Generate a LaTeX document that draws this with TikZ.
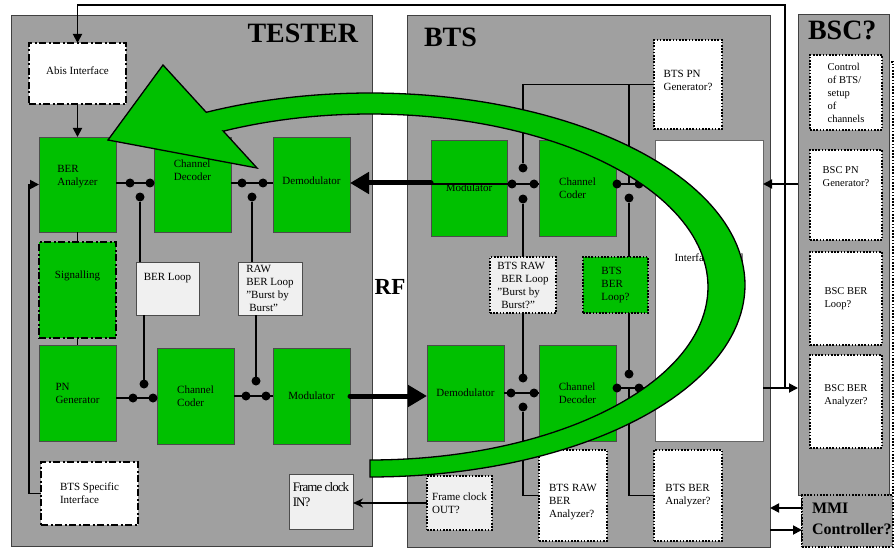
\documentclass[tikz,border=0pt]{standalone}
\usepackage{fontspec}
\setmainfont{Liberation Serif}
\usetikzlibrary{arrows.meta}
\definecolor{panelgray}{HTML}{A0A0A0}
\definecolor{boxgreen}{HTML}{00C000}
\definecolor{lightbox}{HTML}{F0F0F0}
\newcommand\drawbox[8]{\node[#1, minimum width={#5-#3}, minimum height={#6-#4}, label={[name=#2-t, align=left, #8]center:{#7}}] (#2) at ({(#3+#5)/2},{(#4+#6)/2}) {};}
\begin{document}
\begin{tikzpicture}[x=1pt,y=-1pt,
  every node/.style={inner sep=0pt, outer sep=0pt, font=\fontsize{11}{13}\selectfont},
  panel/.style={draw=black!75, line width=0.8pt, fill=panelgray},
  gbox/.style={draw=black!70, line width=0.8pt, fill=boxgreen},
  lbox/.style={draw=black!70, line width=0.8pt, fill=lightbox},
  wbox/.style={draw=black!60, line width=0.8pt, fill=white},
  dotb/.style={draw=black, line width=1.6pt, dash pattern=on 1.6pt off 1.6pt},
  dashdotb/.style={draw=black, line width=2.2pt, dash pattern=on 7pt off 2.5pt on 2pt off 2.5pt},
  wire/.style={draw=black, line width=1.8pt},
  arr/.style={wire, -{Triangle[length=9pt,width=9pt]}},
  rfarr/.style={draw=black, line width=5pt, line cap=round, -{Triangle[length=19pt,width=21pt]}},
  sw/.style={circle, fill=black, minimum size=9pt},
  title/.style={font=\fontsize{28}{30}\selectfont\bfseries}]
\useasboundingbox (0,0) rectangle (896,548);

% panels
\drawbox{panel}{tester}{11}{15}{372}{546}{}{}
\drawbox{panel}{bts}{407}{15}{770}{547}{}{}
\drawbox{dotb, fill=white}{mmiback}{802}{62}{893}{547}{}{}
\drawbox{panel}{bsc}{798}{14}{889}{495}{}{}
\drawbox{dotb, fill=panelgray}{mmi}{802}{495}{893}{547}{}{}
\node[title, anchor=base east] (testerT) at (358,43) {TESTER};
\node[title, anchor=base west] (btsT) at (424,47) {BTS};
\node[title, anchor=base west] (bscT) at (808,40) {BSC?};
\node[font=\fontsize{23}{25}\selectfont\bfseries] (rfT) at (390,287) {RF};
\node[font=\fontsize{16}{21}\selectfont\bfseries, align=left, anchor=north west] (mmiT) at (812,503) {MMI\\Controller?};

% tester boxes
\drawbox{dashdotb, fill=white}{abis}{29}{43}{126}{104}{Abis Interface}{yshift=3}
\drawbox{gbox}{berA}{39}{137}{116}{232}{BER\\Analyzer}{yshift=8}
\drawbox{gbox}{chdecT}{154}{137}{231}{232}{Channel\\Decoder}{yshift=14}
\drawbox{gbox}{demodT}{273}{137}{350}{232}{Demodulator}{yshift=4}
\drawbox{dashdotb, fill=boxgreen}{sig}{39}{242}{116}{338}{Signalling}{yshift=14}
\drawbox{gbox}{pnT}{39}{345}{116}{441}{PN\\Generator}{}
\drawbox{gbox}{chcodT}{157}{348}{234}{444}{Channel\\Coder}{}
\drawbox{gbox}{modT}{273}{348}{350}{444}{Modulator}{}
\drawbox{lbox}{berloop}{136}{262}{199}{315}{BER Loop}{yshift=10}
\drawbox{lbox}{rawloop}{238}{262}{302}{315}{RAW\\BER Loop\\"Burst by\\\hspace*{3pt}Burst"}{}
\drawbox{dashdotb, fill=white}{btsspec}{41}{462}{138}{525}{BTS Specific\\Interface}{}
\drawbox{lbox}{fcin}{289}{474}{353}{529}{Frame clock\\IN?}{yshift=7, font=\fontsize{13}{15}\selectfont\addfontfeature{LetterSpace=-7}}

% BTS boxes
\drawbox{dotb, fill=white}{btspn}{654}{40}{722}{129}{BTS PN\\Generator?}{yshift=4}
\drawbox{gbox}{modB}{431}{140}{507}{236}{Modulator}{}
\drawbox{gbox}{chcodB}{539}{140}{616}{236}{Channel\\Coder}{}
\drawbox{wbox}{iface}{655}{140}{763}{441}{Interface Board}{yshift=33}
\drawbox{dotb, fill=lightbox}{rawB}{490}{257}{556}{313}{BTS RAW\\\hspace*{4pt}BER Loop\\"Burst by\\\hspace*{4pt}Burst?"}{}
\drawbox{dotb, fill=boxgreen}{berloopB}{583}{257}{648}{313}{BTS\\BER\\Loop?}{}
\drawbox{gbox}{demodB}{427}{345}{504}{441}{Demodulator}{}
\drawbox{gbox}{chdecB}{539}{345}{616}{441}{Channel\\Decoder}{}
\drawbox{dotb, fill=white}{rawanB}{539}{450}{607}{541}{BTS RAW\\BER\\Analyzer?}{yshift=-7}
\drawbox{dotb, fill=white}{beranB}{654}{450}{722}{541}{BTS BER\\Analyzer?}{}
\drawbox{dotb, fill=lightbox}{fcout}{427}{476}{492}{530}{Frame clock\\OUT?}{}

% BSC boxes
\drawbox{dotb, fill=white}{ctrl}{810}{55}{882}{130}{Control\\of BTS/\\setup\\of\\channels}{font=\fontsize{10.5}{13}\selectfont}
\drawbox{dotb, fill=white}{bscpn}{810}{150}{882}{240}{BSC PN\\Generator?}{yshift=18, font=\fontsize{10.5}{13}\selectfont}
\drawbox{dotb, fill=white}{bscloop}{810}{252}{882}{345}{BSC BER\\Loop?}{font=\fontsize{10.5}{13}\selectfont}
\drawbox{dotb, fill=white}{bscan}{810}{355}{882}{448}{BSC BER\\Analyzer?}{yshift=6, font=\fontsize{10.5}{13}\selectfont}

% switch contacts
\node[sw] (a1) at (130,183) {}; \node[sw] (a2) at (150,183) {}; \node[sw] (a3) at (140,197) {};
\node[sw] (b1) at (242,183) {}; \node[sw] (b2) at (263,183) {}; \node[sw] (b3) at (252,197) {};
\node[sw] (c1) at (133,398) {}; \node[sw] (c2) at (153,398) {}; \node[sw] (c3) at (144,384) {};
\node[sw] (e1) at (246,396) {}; \node[sw] (e2) at (266,396) {}; \node[sw] (e3) at (256,381) {};
\node[sw] (f1) at (512,184) {}; \node[sw] (f2) at (534,184) {}; \node[sw] (f3) at (523,168) {}; \node[sw] (f4) at (523,199) {};
\node[sw] (g1) at (617,184) {}; \node[sw] (g2) at (639,184) {}; \node[sw] (g4) at (629,198) {};
\node[sw] (h1) at (511,393) {}; \node[sw] (h2) at (534,393) {}; \node[sw] (h3) at (523,378) {}; \node[sw] (h4) at (523,407) {};
\node[sw] (k1) at (617,388) {}; \node[sw] (k2) at (639,388) {}; \node[sw] (k3) at (629,374) {};

% tester wires
\draw[arr] (abis.south) -- (berA.north);
\draw[wire, line width=1.2pt] (berA.south) -- (sig.north);
\draw[wire, line width=1.2pt] (sig.south) -- (pnT.north);
\draw[arr] (btsspec.west) -- ++(-12,0) |- (berA.west);
\draw[wire] (berA.east |- a1) -- (chdecT.west |- a1);
\draw[wire] (a3) -- (a3 |- berloop.north);
\draw[wire] (chdecT.east |- b1) -- (demodT.west |- b1);
\draw[wire] (b3) -- (b3 |- rawloop.north);
\draw[wire] (pnT.east |- c1) -- (chcodT.west |- c1);
\draw[wire] (c3) -- (c3 |- berloop.south);
\draw[wire] (chcodT.east |- e1) -- (modT.west |- e1);
\draw[wire] (e3) -- (e3 |- rawloop.south);

% RF links
\draw[rfarr] (modB.west |- a1) -- (demodT.east |- a1);
\draw[rfarr] (modT.east) -- (modT.east -| demodB.west);
\draw[wire, line width=1.6pt, -{Stealth[length=10pt,width=9pt]}] (fcout.west) -- (fcout.west -| fcin.east);

% BTS wires
\draw[wire] (modB.west |- f1) -- (chcodB.west |- f1);
\draw[wire] (f3) -- (f3 |- btspn.west) -- (btspn.west);
\draw[wire] (f4) -- (f4 |- rawB.north);
\draw[wire] (chcodB.east |- g1) -- (iface.west |- g1);
\draw[wire] (g4 |- btspn.west) -- (g4 |- g1);
\draw[wire] (g4) -- (g4 |- berloopB.north);
\draw[wire] (demodB.east |- h1) -- (chdecB.west |- h1);
\draw[wire] (h3) -- (h3 |- rawB.south);
\draw[wire] (h4) |- (rawanB.west);
\draw[wire] (chdecB.east |- k1) -- (iface.west |- k1);
\draw[wire] (k3) -- (k3 |- berloopB.south);
\draw[wire] (k3 |- k1) |- (beranB.west);

% BSC links
\coordinate (tj) at (785,388);
\coordinate (tr) at (785,5);
\coordinate (tl) at (77.5,5);
\coordinate (m1) at (0,508);
\coordinate (m2) at (0,530);
\draw[arr] (bsc.west |- g1) -- (iface.east |- g1);
\draw[arr] (iface.east |- k1) -- (bsc.west |- k1);
\draw[arr] (tj) -- (tr) -- (tl) -- (abis.north);
\draw[arr] (mmi.west |- m1) -- (bts.east |- m1);
\draw[arr] (bts.east |- m2) -- (mmi.west |- m2);

% big green curved arrow
\draw[draw=black, line width=1.3pt, fill=boxgreen, line join=miter]
  plot[domain=-90:115.9, samples=120] ({370+375*cos(\x)},{285-192*sin(\x)})
  -- (163,65) -- (108,140) -- (257,168) -- (223.3,131.1)
  -- plot[domain=115.7:-90, samples=120] ({370+338*cos(\x)},{287-173*sin(\x)})
  -- cycle;
\end{tikzpicture}
\end{document}
